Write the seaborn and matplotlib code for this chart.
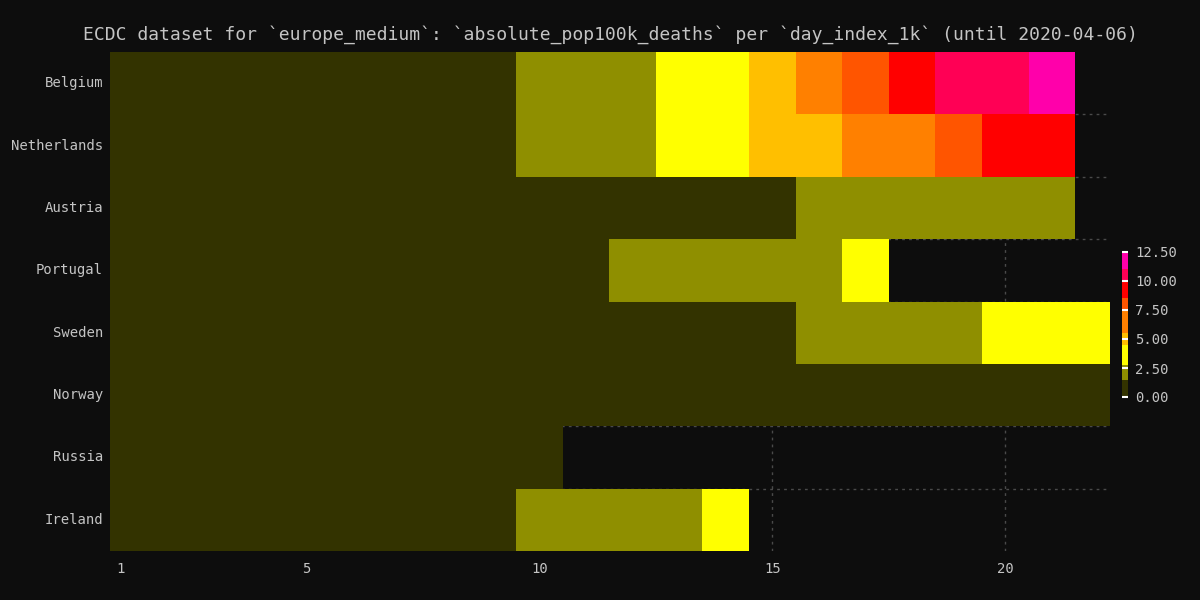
import matplotlib
matplotlib.use("Agg")
import matplotlib.pyplot as plt
import matplotlib.colors as mcolors
import numpy as np
import pandas as pd
import seaborn as sns

nan = np.nan

days = list(range(1, 23))
countries = ["Belgium", "Netherlands", "Austria", "Portugal", "Sweden", "Norway", "Russia", "Ireland"]

belgium = [0.0, 0.0, 0.1, 0.2, 0.2, 0.3, 0.3, 0.6, 0.6, 1.8, 1.8, 2.2, 3.1, 4.0, 5.0, 6.5, 8.0, 9.2, 10.4, 10.4, 11.8, nan]
netherlands = [0.0, 0.0, 0.1, 0.2, 0.2, 0.3, 0.3, 0.5, 0.5, 1.6, 1.6, 2.1, 2.9, 3.9, 4.7, 5.3, 6.0, 7.0, 7.9, 8.9, 9.8, nan]
austria = [0.0, 0.0, 0.1, 0.1, 0.1, 0.2, 0.2, 0.3, 0.3, 0.5, 0.6, 0.8, 0.9, 1.1, 1.3, 1.6, 1.8, 2.0, 2.2, 2.4, 2.6, nan]
portugal = [0.0, 0.0, 0.0, 0.0, 0.0, 0.0, 0.0, 0.1, 0.1, 0.3, 0.6, 1.6, 1.9, 2.1, 2.3, 2.6, 3.0, nan, nan, nan, nan, nan]
sweden = [0.0, 0.0, 0.1, 0.1, 0.1, 0.1, 0.1, 0.2, 0.2, 0.4, 0.5, 0.7, 0.9, 1.1, 1.3, 1.6, 1.9, 2.2, 2.6, 3.0, 3.5, 4.0]
norway = [0.0, 0.0, 0.1, 0.1, 0.1, 0.2, 0.2, 0.2, 0.2, 0.3, 0.4, 0.5, 0.6, 0.7, 0.8, 0.9, 1.0, 1.1, 1.2, 1.3, 1.4, 1.4]
russia = [0.0, 0.0, 0.0, 0.0, 0.0, 0.0, 0.0, 0.0, 0.0, 0.0, nan, nan, nan, nan, nan, nan, nan, nan, nan, nan, nan, nan]
ireland = [0.0, 0.0, 0.0, 0.1, 0.1, 0.1, 0.1, 0.2, 0.2, 1.6, 1.9, 2.2, 2.5, 3.2, nan, nan, nan, nan, nan, nan, nan, nan]

tick_days = [1, 5, 10, 15, 20]
cbar_ticks = [0.0, 2.5, 5.0, 7.5, 10.0, 12.5]

# colour bands of the palette (upper edge, colour)
band_edges = [1.5, 2.75, 4.5, 5.5, 7.5, 8.5, 10.0, 11.0, 12.5]
band_colors = ["#333300", "#8f8f00", "#ffff00", "#ffbf00", "#ff8000",
               "#ff5500", "#ff0000", "#ff0055", "#ff00aa"]

df = pd.DataFrame([belgium, netherlands, austria, portugal, sweden, norway, russia, ireland],
                  index=countries, columns=days)

cmap = mcolors.ListedColormap(band_colors)
norm = mcolors.BoundaryNorm([0.0] + band_edges, cmap.N)

bg = "#0d0d0d"
fg = "#c4c4c4"
sns.set_theme(style="dark", rc={"figure.facecolor": bg, "axes.facecolor": bg,
                                "text.color": fg, "xtick.color": fg, "ytick.color": fg})
plt.rcParams["font.family"] = ["DejaVu Sans Mono"]

fig = plt.figure(figsize=(12, 6), dpi=100)
ax = fig.add_axes([110 / 1200, 1 - 551 / 600, 1000 / 1200, 499 / 600])
cax = fig.add_axes([1122 / 1200, 1 - 397 / 600, 6 / 1200, 145 / 600])

sns.heatmap(df, cmap=cmap, norm=norm, ax=ax, cbar_ax=cax,
            cbar_kws={"ticks": cbar_ticks, "format": "%.2f", "spacing": "proportional"})

ax.set_axisbelow(True)
ax.set_xticks([days.index(d) + 0.5 for d in tick_days])
ax.set_xticklabels([str(d) for d in tick_days], rotation=0, fontsize=10)
ax.set_yticks([i + 0.5 for i in range(len(countries))])
ax.set_yticklabels(countries, rotation=0, fontsize=10)
ax.set_yticks(range(1, len(countries)), minor=True)
ax.tick_params(which="both", length=0)
ax.tick_params(axis="y", pad=5)
ax.tick_params(axis="x", pad=8)
ax.set_xlim(0.285, 21.745)
ax.set_ylim(len(countries), 0)
gridkw = dict(color="#4a4a4a", linestyle=(0, (2, 3)), linewidth=1)
ax.xaxis.grid(True, which="major", **gridkw)
ax.yaxis.grid(True, which="minor", **gridkw)
ax.yaxis.grid(False, which="major")
ax.set_xlabel("")
ax.set_ylabel("")
for s in ax.spines.values():
    s.set_visible(False)

ax.set_title("ECDC dataset for `europe_medium`: `absolute_pop100k_deaths` per `day_index_1k` (until 2020-04-06)",
             fontsize=13, color=fg, pad=9)

cbar = ax.collections[0].colorbar
cbar.outline.set_visible(False)
cbar.minorticks_off()
cax.set_axisbelow(False)
cax.tick_params(which="minor", length=0)
cax.tick_params(which="major", direction="in", length=4.5, width=1.5, color="white",
                labelsize=10, pad=5, labelcolor=fg)

plt.savefig("out.png", dpi=100, facecolor=bg)
